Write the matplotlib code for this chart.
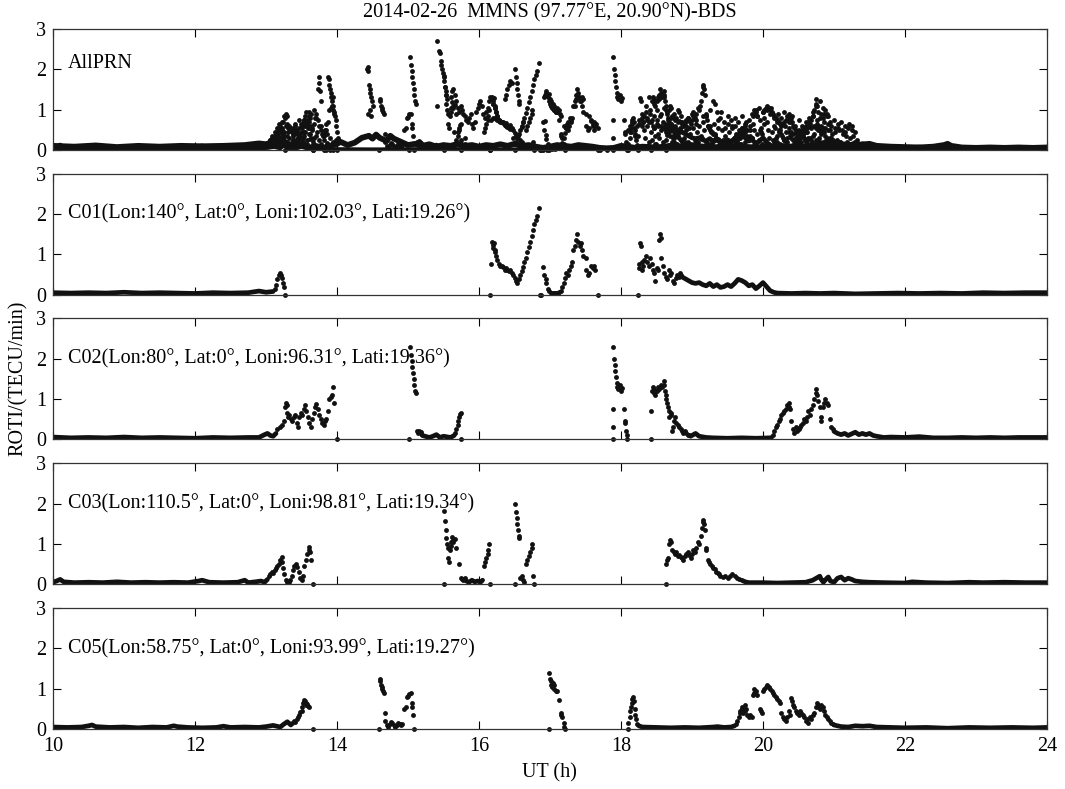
import numpy as np
import matplotlib
matplotlib.use('Agg')
import matplotlib.pyplot as plt

nan = np.nan

# ---- C01: quiet background (line) and scattered ROTI samples (dots) ----
c01_base_t = [10.0, 10.25, 10.5, 10.75, 11.0, 11.25, 11.5, 11.75, 12.0, 12.25, 12.5, 12.75, 12.9, 13.0, 13.1, nan,
              18.85, 18.9, 18.95, 19.0, 19.05, 19.1, 19.15, 19.2, 19.25, 19.3, 19.35, 19.4, 19.45, 19.5, 19.55,
              19.6, 19.65, 19.7, 19.75, 19.8, 19.85, 19.9, 19.95, 20.0, 20.05, 20.1, 20.15, 20.2, 20.4, 20.6,
              20.8, 21.0, 21.3, 21.6, 21.9, 22.2, 22.5, 22.8, 23.1, 23.4, 23.7, 24.0]
c01_base_v = [0.05, 0.04, 0.05, 0.04, 0.06, 0.04, 0.05, 0.04, 0.03, 0.05, 0.04, 0.05, 0.09, 0.06, 0.08, nan,
              0.45, 0.4, 0.35, 0.3, 0.28, 0.3, 0.25, 0.22, 0.28, 0.2, 0.25, 0.18, 0.2, 0.25, 0.2,
              0.28, 0.38, 0.35, 0.3, 0.22, 0.25, 0.15, 0.22, 0.3, 0.2, 0.1, 0.06, 0.04, 0.03, 0.04,
              0.03, 0.04, 0.02, 0.03, 0.04, 0.03, 0.04, 0.03, 0.05, 0.04, 0.05, 0.05]
c01_pts = [(13.12, 0.15), (13.14, 0.25), (13.16, 0.38), (13.18, 0.48), (13.2, 0.55), (13.21, 0.5), (13.22, 0.42),
           (13.24, 0.3), (13.26, 0.2), (13.27, 0.0),
           (16.16, 0.0), (16.17, 0.75), (16.18, 1.3), (16.19, 1.22), (16.2, 1.15), (16.21, 1.28), (16.22, 1.05),
           (16.23, 1.1), (16.24, 0.95), (16.26, 0.85), (16.28, 0.75), (16.3, 0.72), (16.32, 0.7), (16.34, 0.68),
           (16.36, 0.62), (16.38, 0.66), (16.4, 0.6), (16.42, 0.58), (16.44, 0.62), (16.46, 0.55), (16.48, 0.5),
           (16.5, 0.42), (16.52, 0.35), (16.54, 0.3), (16.56, 0.4), (16.58, 0.5), (16.6, 0.58), (16.62, 0.68),
           (16.64, 0.8), (16.66, 0.92), (16.68, 1.05), (16.7, 1.18), (16.72, 1.3), (16.74, 1.45), (16.76, 1.6),
           (16.78, 1.75), (16.8, 1.85), (16.82, 1.95), (16.84, 2.15), (16.86, 0.0), (16.88, 0.0), (16.9, 0.68),
           (16.92, 0.5), (16.94, 0.38), (16.95, 0.28), (16.97, 0.15), (16.99, 0.08), (17.01, 0.04), (17.03, 0.03),
           (17.05, 0.04), (17.07, 0.03), (17.09, 0.05), (17.11, 0.04), (17.13, 0.06), (17.15, 0.1), (17.17, 0.18),
           (17.19, 0.3), (17.21, 0.42), (17.23, 0.55), (17.25, 0.5), (17.27, 0.6), (17.29, 0.7), (17.31, 0.8),
           (17.33, 1.1), (17.35, 1.2), (17.37, 1.35), (17.38, 1.5), (17.4, 1.3), (17.42, 1.2), (17.43, 1.28),
           (17.45, 1.1), (17.47, 0.95), (17.5, 0.9), (17.51, 0.6), (17.53, 0.5), (17.55, 0.55), (17.58, 0.72),
           (17.6, 0.65), (17.62, 0.7), (17.64, 0.6), (17.67, 0.0),
           (18.24, 0.0), (18.25, 0.75), (18.26, 0.65), (18.27, 1.28), (18.28, 1.2), (18.29, 0.8), (18.3, 0.6),
           (18.31, 0.7), (18.33, 0.85), (18.35, 0.95), (18.37, 0.8), (18.39, 0.7), (18.41, 0.9), (18.43, 0.75),
           (18.45, 0.6), (18.47, 0.55), (18.48, 0.35), (18.5, 0.65), (18.52, 0.6), (18.54, 1.35), (18.55, 1.5),
           (18.56, 1.4), (18.57, 0.9), (18.59, 0.7), (18.61, 0.55), (18.63, 0.45), (18.65, 0.38), (18.67, 0.6),
           (18.69, 0.5), (18.71, 0.55), (18.73, 0.35), (18.75, 0.3), (18.77, 0.42), (18.79, 0.5), (18.81, 0.45),
           (18.83, 0.55), (18.85, 0.48)]

# ---- C02 ----
c02_base_t = [10.0, 10.25, 10.5, 10.75, 11.0, 11.25, 11.5, 11.75, 12.0, 12.25, 12.5, 12.75, 12.9, 12.98, 13.02,
              13.06, 13.1, 13.14, nan,
              15.18, 15.2, 15.3, 15.35, 15.4, 15.45, 15.5, 15.6, 15.65, nan,
              18.98, 19.0, 19.05, 19.1, 19.2, 19.3, 19.5, 19.7, 19.9, 20.1, 20.12, nan,
              21.0, 21.05, 21.1, 21.15, 21.2, 21.25, 21.3, 21.35, 21.4, 21.45, 21.5, 21.55, 21.6, 21.7, 21.8,
              22.0, 22.2, 22.4, 22.6, 22.8, 23.0, 23.2, 23.4, 23.6, 23.8, 24.0]
c02_base_v = [0.06, 0.04, 0.05, 0.04, 0.06, 0.04, 0.05, 0.04, 0.03, 0.05, 0.04, 0.05, 0.05, 0.12, 0.15,
              0.1, 0.08, 0.15, nan,
              0.18, 0.1, 0.05, 0.08, 0.12, 0.05, 0.08, 0.05, 0.1, nan,
              0.08, 0.1, 0.15, 0.08, 0.05, 0.04, 0.03, 0.04, 0.03, 0.04, 0.05, nan,
              0.2, 0.15, 0.12, 0.15, 0.1, 0.14, 0.18, 0.12, 0.15, 0.12, 0.15, 0.1, 0.08, 0.05, 0.06,
              0.05, 0.07, 0.04, 0.04, 0.05, 0.04, 0.05, 0.04, 0.05, 0.05, 0.05]
c02_pts = [(13.16, 0.25), (13.19, 0.3), (13.22, 0.35), (13.25, 0.45), (13.27, 0.8), (13.28, 0.9), (13.29, 0.85),
           (13.3, 0.65), (13.31, 0.55), (13.33, 0.6), (13.35, 0.5), (13.37, 0.45), (13.39, 0.55), (13.41, 0.6),
           (13.43, 0.4), (13.45, 0.3), (13.47, 0.55), (13.49, 0.65), (13.51, 0.6), (13.53, 0.75), (13.55, 0.85),
           (13.57, 0.7), (13.59, 0.55), (13.61, 0.4), (13.63, 0.3), (13.65, 0.5), (13.67, 0.65), (13.69, 0.8),
           (13.71, 0.88), (13.73, 0.75), (13.75, 0.6), (13.77, 0.5), (13.79, 0.4), (13.81, 0.35), (13.83, 0.45),
           (13.85, 0.5), (13.87, 0.7), (13.89, 1.0), (13.91, 1.05), (13.93, 1.1), (13.95, 1.3), (13.96, 0.9),
           (14.0, 0.0),
           (15.01, 0.0), (15.03, 2.3), (15.04, 2.1), (15.05, 1.95), (15.06, 1.8), (15.07, 1.65), (15.08, 1.5),
           (15.09, 1.35), (15.1, 1.2), (15.11, 1.15), (15.12, 0.2), (15.14, 0.15), (15.16, 0.22), (15.18, 0.18),
           (15.66, 0.15), (15.68, 0.25), (15.7, 0.35), (15.71, 0.45), (15.72, 0.55), (15.73, 0.62), (15.74, 0.65),
           (15.75, 0.0),
           (17.89, 0.0), (17.89, 0.3), (17.89, 0.75), (17.89, 2.3), (17.9, 2.0), (17.91, 1.85), (17.92, 1.7),
           (17.93, 1.55), (17.94, 1.4), (17.95, 1.3), (17.96, 1.25), (17.98, 1.35), (18.0, 1.2), (18.02, 1.28),
           (18.04, 0.75), (18.05, 0.45), (18.06, 0.4), (18.07, 0.2), (18.08, 0.1), (18.09, 0.0),
           (18.42, 0.0), (18.42, 0.7), (18.44, 1.2), (18.45, 1.3), (18.46, 1.15), (18.47, 1.25), (18.48, 1.1),
           (18.5, 1.2), (18.52, 1.3), (18.54, 1.25), (18.56, 1.35), (18.58, 1.3), (18.6, 1.45), (18.61, 1.35),
           (18.62, 1.2), (18.63, 1.1), (18.64, 1.0), (18.65, 0.9), (18.66, 0.8), (18.67, 0.7), (18.68, 0.55),
           (18.7, 0.6), (18.71, 0.65), (18.72, 0.2), (18.73, 0.3), (18.74, 0.45), (18.76, 0.55), (18.78, 0.4),
           (18.8, 0.35), (18.82, 0.3), (18.84, 0.25), (18.86, 0.2), (18.88, 0.15), (18.9, 0.2), (18.92, 0.15),
           (18.94, 0.1), (18.96, 0.12),
           (20.14, 0.1), (20.16, 0.2), (20.18, 0.3), (20.2, 0.35), (20.22, 0.45), (20.24, 0.5), (20.26, 0.6),
           (20.28, 0.65), (20.3, 0.7), (20.32, 0.75), (20.34, 0.85), (20.36, 0.9), (20.37, 0.8), (20.38, 0.75),
           (20.4, 0.45), (20.42, 0.25), (20.44, 0.15), (20.46, 0.3), (20.48, 0.2), (20.5, 0.25), (20.52, 0.3),
           (20.54, 0.35), (20.56, 0.4), (20.58, 0.5), (20.6, 0.45), (20.62, 0.55), (20.64, 0.7), (20.66, 0.6),
           (20.68, 0.75), (20.7, 0.85), (20.72, 1.0), (20.74, 1.15), (20.75, 1.25), (20.76, 1.1), (20.78, 0.95),
           (20.8, 0.8), (20.81, 0.55), (20.82, 0.45), (20.84, 0.8), (20.86, 0.9), (20.88, 1.0), (20.9, 0.9),
           (20.92, 0.85), (20.94, 0.5), (20.96, 0.3), (20.98, 0.25)]

# ---- C03 ----
c03_base_t = [10.0, 10.05, 10.1, 10.15, 10.3, 10.5, 10.7, 10.9, 11.1, 11.3, 11.5, 11.7, 11.9, 12.05, 12.1,
              12.2, 12.4, 12.6, 12.7, 12.75, 12.85, 12.93, 12.98, 13.02, nan,
              15.82, 15.86, 15.9, 15.94, 15.98, 16.02, 16.05, nan,
              19.7, 19.75, 19.8, 20.0, 20.2, 20.4, 20.6, 20.7, 20.75, 20.8, 20.82, 20.85, 20.9, 20.92, 20.95,
              21.0, 21.05, 21.1, 21.15, 21.2, 21.25, 21.3, 21.4, 21.5, 21.7, 22.0, 22.1, 22.3, 22.6, 22.9,
              23.1, 23.4, 23.7, 24.0]
c03_base_v = [0.05, 0.08, 0.12, 0.06, 0.04, 0.05, 0.04, 0.06, 0.04, 0.05, 0.04, 0.05, 0.04, 0.08, 0.1,
              0.05, 0.04, 0.05, 0.1, 0.04, 0.06, 0.08, 0.05, 0.12, nan,
              0.08, 0.05, 0.1, 0.06, 0.08, 0.05, 0.1, nan,
              0.1, 0.06, 0.04, 0.04, 0.03, 0.04, 0.05, 0.1, 0.15, 0.2, 0.12, 0.05, 0.15, 0.18, 0.08,
              0.05, 0.15, 0.18, 0.1, 0.15, 0.12, 0.08, 0.06, 0.05, 0.04, 0.03, 0.06, 0.04, 0.03, 0.05,
              0.04, 0.05, 0.04, 0.04]
c03_pts = [(13.04, 0.2), (13.06, 0.25), (13.08, 0.3), (13.1, 0.28), (13.12, 0.35), (13.14, 0.4), (13.16, 0.45),
           (13.18, 0.5), (13.2, 0.6), (13.22, 0.68), (13.23, 0.55), (13.24, 0.4), (13.26, 0.25), (13.28, 0.1),
           (13.3, 0.05), (13.32, 0.06), (13.34, 0.1), (13.36, 0.2), (13.38, 0.35), (13.4, 0.45), (13.42, 0.5),
           (13.44, 0.42), (13.46, 0.3), (13.48, 0.15), (13.5, 0.1), (13.52, 0.2), (13.54, 0.45), (13.56, 0.6),
           (13.58, 0.75), (13.6, 0.85), (13.61, 0.93), (13.62, 0.8), (13.63, 0.6), (13.66, 0.0),
           (15.5, 0.0), (15.5, 1.82), (15.52, 1.57), (15.53, 1.35), (15.54, 1.15), (15.55, 1.0), (15.56, 0.9),
           (15.57, 0.65), (15.58, 0.55), (15.59, 0.85), (15.6, 0.95), (15.61, 1.05), (15.62, 1.18), (15.63, 1.1),
           (15.64, 1.05), (15.66, 1.12), (15.68, 0.9), (15.72, 0.5), (15.74, 0.15), (15.76, 0.12), (15.78, 0.1),
           (15.8, 0.15), (16.07, 0.45), (16.09, 0.55), (16.1, 0.65), (16.12, 0.75), (16.13, 0.85), (16.14, 1.0),
           (16.16, 0.0),
           (16.5, 0.0), (16.51, 2.0), (16.52, 1.8), (16.53, 1.65), (16.54, 1.5), (16.55, 1.35), (16.56, 1.2),
           (16.57, 1.15), (16.58, 0.15), (16.6, 0.2), (16.62, 0.1), (16.64, 0.05), (16.66, 0.5), (16.68, 0.6),
           (16.7, 0.7), (16.72, 0.8), (16.74, 0.9), (16.75, 1.0), (16.76, 0.2), (16.78, 0.0),
           (18.63, 0.0), (18.64, 0.5), (18.65, 0.6), (18.66, 0.65), (18.68, 1.0), (18.69, 1.1), (18.7, 1.05),
           (18.72, 0.85), (18.74, 0.8), (18.76, 0.75), (18.78, 0.8), (18.8, 0.7), (18.82, 0.72), (18.84, 0.68),
           (18.86, 0.65), (18.88, 0.6), (18.9, 0.7), (18.92, 0.75), (18.94, 0.8), (18.96, 0.72), (18.98, 0.65),
           (19.0, 0.75), (19.02, 0.85), (19.04, 0.8), (19.06, 0.9), (19.08, 1.05), (19.1, 1.0), (19.12, 1.2),
           (19.14, 1.4), (19.15, 1.55), (19.16, 1.6), (19.17, 1.5), (19.18, 1.35), (19.19, 0.9), (19.2, 0.85),
           (19.22, 0.6), (19.24, 0.55), (19.26, 0.5), (19.28, 0.45), (19.3, 0.4), (19.32, 0.38), (19.34, 0.3),
           (19.36, 0.28), (19.38, 0.25), (19.4, 0.2), (19.43, 0.18), (19.46, 0.2), (19.5, 0.15), (19.54, 0.2),
           (19.57, 0.25), (19.6, 0.2), (19.63, 0.15), (19.66, 0.12)]

# ---- C05 ----
c05_base_t = [10.0, 10.2, 10.4, 10.5, 10.55, 10.6, 10.8, 11.0, 11.2, 11.4, 11.6, 11.7, 11.75, 11.9, 12.1, 12.3,
              12.4, 12.5, 12.7, 12.9, 13.0, 13.1, 13.2, 13.25, 13.3, 13.35, nan,
              18.25, 18.3, 18.5, 18.7, 18.9, 19.1, 19.3, 19.36, 19.45, 19.55, 19.6, nan,
              21.0, 21.1, 21.2, 21.3, 21.4, 21.5, 21.6, 21.8, 22.0, 22.3, 22.6, 22.9, 23.2, 23.5, 23.8, 24.0]
c05_base_v = [0.05, 0.04, 0.05, 0.08, 0.1, 0.06, 0.04, 0.05, 0.03, 0.05, 0.04, 0.08, 0.06, 0.04, 0.03, 0.04,
              0.07, 0.04, 0.05, 0.04, 0.06, 0.09, 0.05, 0.12, 0.18, 0.1, nan,
              0.08, 0.05, 0.04, 0.03, 0.04, 0.03, 0.05, 0.06, 0.04, 0.05, 0.08, nan,
              0.1, 0.06, 0.05, 0.08, 0.07, 0.08, 0.05, 0.04, 0.03, 0.04, 0.02, 0.04, 0.03, 0.04, 0.03, 0.04]
c05_pts = [(13.37, 0.15), (13.39, 0.2), (13.41, 0.18), (13.43, 0.25), (13.45, 0.3), (13.47, 0.35), (13.48, 0.42),
           (13.5, 0.45), (13.51, 0.55), (13.52, 0.65), (13.53, 0.73), (13.54, 0.68), (13.55, 0.7), (13.56, 0.65),
           (13.57, 0.6), (13.58, 0.62), (13.59, 0.58), (13.6, 0.55), (13.66, 0.0),
           (14.59, 0.0), (14.6, 1.25), (14.61, 1.2), (14.62, 1.1), (14.63, 1.05), (14.64, 1.0), (14.65, 0.95),
           (14.66, 0.9), (14.67, 0.4), (14.68, 0.2), (14.7, 0.1), (14.72, 0.05), (14.74, 0.12), (14.76, 0.18),
           (14.78, 0.15), (14.8, 0.1), (14.82, 0.05), (14.84, 0.1), (14.86, 0.15), (14.88, 0.12), (14.9, 0.1),
           (14.92, 0.12), (14.94, 0.5), (14.97, 0.55), (14.99, 0.8), (15.0, 0.82), (15.02, 0.88), (15.04, 0.9),
           (15.05, 0.65), (15.06, 0.55), (15.07, 0.35), (15.09, 0.0),
           (16.98, 0.0), (16.98, 1.38), (17.0, 1.25), (17.01, 1.2), (17.02, 1.1), (17.03, 1.05), (17.04, 1.15),
           (17.05, 1.1), (17.06, 1.0), (17.08, 0.95), (17.1, 0.95), (17.12, 0.73), (17.15, 0.4), (17.16, 0.35),
           (17.17, 0.3), (17.19, 0.15), (17.2, 0.05), (17.21, 0.0),
           (18.1, 0.0), (18.1, 0.15), (18.12, 0.3), (18.13, 0.45), (18.14, 0.55), (18.15, 0.65), (18.16, 0.75),
           (18.17, 0.8), (18.18, 0.7), (18.19, 0.5), (18.2, 0.35), (18.21, 0.25), (18.23, 0.12),
           (19.62, 0.12), (19.64, 0.2), (19.66, 0.3), (19.67, 0.4), (19.68, 0.45), (19.7, 0.5), (19.71, 0.55),
           (19.72, 0.4), (19.74, 0.45), (19.75, 0.6), (19.76, 0.5), (19.78, 0.35), (19.8, 0.3), (19.82, 0.35),
           (19.84, 0.3), (19.86, 0.85), (19.87, 0.9), (19.88, 1.0), (19.9, 0.95), (19.92, 0.85), (19.96, 0.5),
           (19.97, 0.45), (19.98, 0.4), (20.0, 0.95), (20.02, 1.0), (20.04, 1.05), (20.06, 1.1), (20.08, 1.05),
           (20.1, 1.0), (20.12, 0.95), (20.14, 0.9), (20.16, 0.85), (20.18, 0.8), (20.2, 0.75), (20.22, 0.7),
           (20.24, 0.65), (20.26, 0.4), (20.28, 0.3), (20.3, 0.25), (20.32, 0.2), (20.34, 0.3), (20.36, 0.45),
           (20.38, 0.35), (20.4, 0.78), (20.41, 0.7), (20.42, 0.6), (20.44, 0.55), (20.46, 0.45), (20.48, 0.4),
           (20.5, 0.35), (20.52, 0.45), (20.54, 0.4), (20.56, 0.35), (20.58, 0.3), (20.6, 0.2), (20.62, 0.25),
           (20.64, 0.15), (20.66, 0.3), (20.68, 0.25), (20.7, 0.35), (20.72, 0.4), (20.74, 0.55), (20.76, 0.65),
           (20.77, 0.6), (20.78, 0.55), (20.8, 0.5), (20.82, 0.6), (20.84, 0.55), (20.86, 0.45), (20.88, 0.35),
           (20.9, 0.3), (20.92, 0.25), (20.94, 0.2), (20.96, 0.15), (20.98, 0.12)]

# ---- other PRNs, only visible in the AllPRN panel ----
oth_base_t = [10.0, 10.3, 10.6, 10.9, 11.2, 11.5, 11.8, 12.1, 12.4, 12.7, 12.9, 13.0, 13.1, 13.2, 13.3, 13.4,
              13.5, 13.6, 13.7, 13.8, 13.9, 14.0, 14.05, 14.15, 14.25, 14.35, 14.45, 14.5, 14.55, 14.6, 14.7,
              14.75, 14.8, 14.9, 15.0, 15.1, 15.2, 15.3, 15.4, 15.5, 15.6, 15.7, 15.8, 15.9, 16.0, 16.1, 16.2,
              16.3, 16.4, 16.5, 16.6, 16.7, 16.8, 16.9, 17.0, 17.1, 17.2, 17.3, 17.4, 17.5, 17.6, 17.7, 17.8,
              17.9, 18.0, 18.1, 18.2, 18.3, 18.5, 18.7, 18.9, 19.1, 19.3, 19.5, 19.7, 19.9, 20.1, 20.3, 20.5,
              20.7, 20.9, 21.1, 21.3, 21.5, 21.6, 21.8, 22.0, 22.2, 22.4, 22.55, 22.6, 22.65, 22.8, 23.0,
              23.2, 23.4, 23.6, 23.8, 24.0]
oth_base_v = [0.1, 0.08, 0.11, 0.07, 0.1, 0.08, 0.1, 0.09, 0.1, 0.12, 0.16, 0.14, 0.2, 0.15, 0.1, 0.05,
              0.1, 0.05, 0.1, 0.05, 0.1, 0.15, 0.2, 0.12, 0.18, 0.3, 0.35, 0.28, 0.38, 0.3, 0.22,
              0.35, 0.28, 0.2, 0.12, 0.15, 0.1, 0.14, 0.08, 0.12, 0.1, 0.15, 0.1, 0.12, 0.08, 0.12, 0.1,
              0.14, 0.1, 0.15, 0.1, 0.12, 0.08, 0.05, 0.08, 0.12, 0.1, 0.08, 0.12, 0.1, 0.08, 0.05, 0.04,
              0.05, 0.1, 0.08, 0.05, 0.08, 0.06, 0.1, 0.07, 0.09, 0.06, 0.1, 0.08, 0.06, 0.09, 0.07, 0.1,
              0.06, 0.08, 0.1, 0.12, 0.15, 0.1, 0.08, 0.07, 0.06, 0.08, 0.12, 0.15, 0.1, 0.06, 0.05,
              0.06, 0.05, 0.06, 0.05, 0.06]
oth_zero_t = [13.7, 14.5, 15.5, 16.5, 17.5, 18.5, 19.5, 20.5, 21.5]
oth_zero_v = [0.02, 0.01, 0.02, 0.01, 0.02, 0.01, 0.02, 0.01, 0.03]
oth_pts = [(13.05, 0.25), (13.08, 0.35), (13.1, 0.2), (13.12, 0.45), (13.14, 0.3), (13.15, 0.55), (13.17, 0.4),
           (13.18, 0.65), (13.2, 0.25), (13.22, 0.5), (13.24, 0.7), (13.25, 0.35), (13.26, 0.85), (13.28, 0.6),
           (13.3, 0.2), (13.31, 0.45), (13.33, 0.3), (13.35, 0.55), (13.36, 0.15), (13.38, 0.4), (13.4, 0.25),
           (13.41, 0.65), (13.43, 0.5), (13.45, 0.2), (13.46, 0.75), (13.48, 0.35), (13.5, 0.6), (13.52, 0.3),
           (13.53, 0.15), (13.55, 0.45), (13.57, 0.95), (13.58, 0.25), (13.6, 0.7), (13.62, 0.4), (13.63, 0.9),
           (13.65, 0.55), (13.67, 1.0), (13.68, 0.3), (13.7, 0.8), (13.72, 0.45), (13.73, 1.5), (13.74, 1.65),
           (13.75, 1.8), (13.76, 1.45), (13.77, 1.2), (13.78, 0.6), (13.8, 0.35), (13.81, 0.0), (13.85, 0.0),
           (13.83, 0.5), (13.85, 0.65), (13.86, 0.4), (13.87, 1.8), (13.88, 1.75), (13.89, 1.6), (13.9, 1.5),
           (13.91, 1.4), (13.92, 1.3), (13.93, 1.2), (13.94, 1.1), (13.95, 1.0), (13.96, 0.95), (13.97, 0.85),
           (13.98, 0.75), (13.99, 0.6), (14.0, 0.45), (14.01, 0.3), (14.02, 0.2), (13.9, 0.0), (13.95, 0.0),
           (14.42, 2.0), (14.43, 2.05), (14.44, 1.95), (14.45, 1.6), (14.46, 1.5), (14.47, 1.4), (14.48, 1.3),
           (14.49, 1.2), (14.5, 1.1), (14.44, 0.9), (14.46, 1.0), (14.48, 0.85),
           (15.41, 2.7), (15.41, 1.1), (15.43, 2.45), (15.45, 2.4), (15.46, 2.2), (15.47, 2.1), (15.48, 2.0),
           (15.49, 1.9), (15.5, 1.8), (15.51, 1.7), (15.52, 1.55), (15.53, 1.45), (15.54, 1.35), (15.55, 1.25),
           (15.6, 1.3), (15.62, 1.45), (15.64, 1.5), (15.66, 1.35), (15.68, 1.2), (15.7, 1.05), (15.72, 0.95),
           (15.74, 1.1), (15.76, 1.0), (15.78, 0.9), (15.8, 0.85), (15.82, 0.75), (15.84, 0.7), (15.86, 0.8),
           (15.88, 0.9), (15.9, 0.65), (15.92, 0.55), (15.94, 0.7), (15.96, 0.95), (15.98, 1.05), (16.0, 1.15),
           (16.02, 1.2), (16.04, 1.1), (16.06, 0.9), (16.08, 0.8), (16.1, 0.95), (16.12, 1.05), (16.14, 1.2),
           (16.16, 1.3), (16.18, 1.25), (16.2, 1.15), (16.22, 1.05), (16.24, 0.95), (16.26, 0.85), (16.28, 0.75),
           (16.3, 0.7), (15.65, 0.45), (15.75, 0.25), (15.8, 0.3),
           (16.2, 0.8), (16.22, 0.78), (16.24, 0.76), (16.26, 0.74), (16.28, 0.72), (16.32, 0.68), (16.34, 0.66),
           (16.36, 0.62), (16.38, 0.6), (16.4, 0.58), (16.42, 0.55), (16.44, 0.52),
           (16.36, 1.25), (16.38, 1.35), (16.4, 1.5), (16.42, 1.6), (16.44, 1.7), (16.46, 1.65),
           (16.48, 0.3), (16.52, 0.2), (16.55, 0.35), (16.58, 0.25), (16.6, 0.6), (16.62, 0.7),
           (16.9, 0.0), (16.92, 1.3), (16.93, 1.35), (16.93, 0.72), (16.94, 1.4), (16.95, 1.45), (16.96, 1.35),
           (16.96, 0.0), (16.97, 1.3), (16.98, 1.2), (17.0, 1.15), (17.02, 1.1), (17.04, 1.05), (17.06, 1.0),
           (17.08, 0.95), (17.1, 1.05), (17.12, 1.0), (17.14, 0.9), (17.16, 0.85), (17.2, 0.6), (17.22, 0.55),
           (17.24, 0.65), (17.26, 0.7), (17.28, 0.8), (17.3, 0.75), (17.35, 1.1), (17.37, 1.25), (17.39, 1.4),
           (17.41, 1.3), (17.43, 1.2), (17.45, 1.3), (17.47, 1.25), (17.55, 0.85), (17.58, 0.75), (17.6, 0.6),
           (17.62, 0.5), (17.65, 0.65), (17.68, 0.55), (17.7, 0.0), (17.8, 0.0),
           (18.1, 0.5), (18.12, 0.6), (18.14, 0.45), (18.16, 0.7), (18.18, 0.55), (18.2, 0.4), (18.22, 0.6),
           (18.24, 0.35)]
# low cluster of several tracks before 14 UT
oth_g_t = [13.02, 13.06, 13.1, 13.14, 13.18, 13.22, 13.26, 13.3, 13.34, 13.38, 13.42, 13.46, 13.5, 13.54,
           13.58, 13.62, 13.66, 13.7, 13.74, 13.78, 13.82, 13.86, 13.9, 13.94, 13.98]
oth_g_v = [0.12, 0.18, 0.1, 0.22, 0.15, 0.3, 0.2, 0.35, 0.12, 0.25, 0.18, 0.3, 0.22, 0.35,
           0.15, 0.28, 0.2, 0.35, 0.25, 0.15, 0.25, 0.18, 0.3, 0.2, 0.25]
# overlapping satellite tracks in the 18-21.3 UT disturbance
oth_a_t = [18.30, 18.35, 18.40, 18.45, 18.50, 18.55, 18.60, 18.65, 18.70, 18.75, 18.80, 18.85, 18.90, 18.95,
           19.00, 19.05, 19.10, 19.15, 19.20, 19.25, 19.30, 19.33, 19.35, 19.40, 19.45, 19.50, 19.55, 19.60,
           19.65, 19.70, 19.75, 19.80, 19.85, 19.90, 19.95, 20.00, 20.05, 20.10, 20.15, 20.20, 20.25, 20.30,
           20.35, 20.40, 20.45, 20.50, 20.55, 20.60, 20.65, 20.70, 20.75, 20.80, 20.85, 20.90, 20.95, 21.00,
           21.05, 21.10, 21.15, 21.20, 21.25, 21.30]
oth_a_v = [0.9, 1.1, 1.3, 1.2, 1.0, 0.85, 1.05, 0.95, 0.8, 0.9, 1.0, 0.85, 0.7, 0.8,
           0.9, 0.75, 0.6, 0.7, 0.85, 1.0, 1.2, 1.15, 0.95, 0.8, 0.7, 0.85, 0.75, 0.6,
           0.7, 0.55, 0.65, 0.75, 0.9, 1.0, 1.05, 0.95, 1.0, 0.9, 0.8, 0.7, 0.8, 0.95,
           0.85, 0.7, 0.6, 0.5, 0.6, 0.7, 0.8, 0.95, 1.1, 1.2, 1.05, 0.85, 0.7, 0.75,
           0.65, 0.7, 0.6, 0.55, 0.6, 0.45]
oth_b_t = [18.32, 18.37, 18.42, 18.47, 18.52, 18.57, 18.62, 18.67, 18.72, 18.77, 18.82, 18.87, 18.92, 18.97,
           19.02, 19.07, 19.12, 19.17, 19.22, 19.27, 19.32, 19.37, 19.42, 19.47, 19.52, 19.57, 19.62, 19.67,
           19.72, 19.77, 19.82, 19.87, 19.92, 19.97, 20.02, 20.07, 20.12, 20.17, 20.22, 20.27, 20.32, 20.37,
           20.42, 20.47, 20.52, 20.57, 20.62, 20.67, 20.72, 20.77, 20.82, 20.87, 20.92, 20.97, 21.02, 21.07,
           21.12, 21.17, 21.22, 21.27, 21.32]
oth_b_v = [0.5, 0.6, 0.45, 0.55, 0.4, 0.5, 0.65, 0.45, 0.5, 0.35, 0.45, 0.6, 0.5, 0.4,
           0.55, 0.45, 0.35, 0.5, 0.6, 0.45, 0.4, 0.55, 0.5, 0.35, 0.45, 0.55, 0.4, 0.3,
           0.45, 0.5, 0.6, 0.5, 0.4, 0.55, 0.65, 0.5, 0.45, 0.55, 0.5, 0.35, 0.45, 0.55,
           0.4, 0.3, 0.4, 0.5, 0.45, 0.55, 0.6, 0.5, 0.4, 0.55, 0.5, 0.4, 0.45, 0.5,
           0.4, 0.35, 0.3, 0.35, 0.25]
oth_c_t = [18.34, 18.39, 18.44, 18.49, 18.54, 18.59, 18.64, 18.69, 18.74, 18.79, 18.84, 18.89, 18.94, 18.99,
           19.04, 19.09, 19.14, 19.19, 19.24, 19.29, 19.34, 19.39, 19.44, 19.49, 19.54, 19.59, 19.64, 19.69,
           19.74, 19.79, 19.84, 19.89, 19.94, 19.99, 20.04, 20.09, 20.14, 20.19, 20.24, 20.29, 20.34, 20.39,
           20.44, 20.49, 20.54, 20.59, 20.64, 20.69, 20.74, 20.79, 20.84, 20.89, 20.94, 20.99, 21.04, 21.09,
           21.14, 21.19, 21.24, 21.29, 21.34]
oth_c_v = [0.3, 0.2, 0.25, 0.15, 0.3, 0.2, 0.25, 0.35, 0.2, 0.15, 0.25, 0.3, 0.2, 0.15,
           0.25, 0.2, 0.3, 0.2, 0.15, 0.25, 0.3, 0.2, 0.25, 0.15, 0.2, 0.3, 0.25, 0.15,
           0.2, 0.25, 0.3, 0.2, 0.25, 0.15, 0.2, 0.3, 0.25, 0.2, 0.15, 0.25, 0.2, 0.3,
           0.25, 0.15, 0.2, 0.25, 0.3, 0.2, 0.25, 0.3, 0.2, 0.25, 0.3, 0.2, 0.25, 0.2,
           0.15, 0.2, 0.15, 0.2, 0.12]
oth_d_t = [18.31, 18.41, 18.51, 18.61, 18.71, 18.81, 18.91, 19.01, 19.11, 19.21, 19.31, 19.41, 19.51, 19.61,
           19.71, 19.81, 19.91, 20.01, 20.11, 20.21, 20.31, 20.41, 20.51, 20.61, 20.71, 20.81, 20.91, 21.01,
           21.11, 21.21]
oth_d_v = [0.7, 1.0, 0.75, 1.3, 0.65, 0.95, 0.6, 0.95, 1.1, 0.75, 0.65, 0.95, 0.65, 0.8,
           0.85, 0.5, 0.85, 0.8, 1.05, 0.9, 0.6, 0.85, 0.75, 0.6, 0.85, 0.9, 0.65, 0.55,
           0.5, 0.65]
oth_e_t = [18.36, 18.46, 18.56, 18.66, 18.76, 18.86, 18.96, 19.06, 19.16, 19.26, 19.36, 19.46, 19.56, 19.66,
           19.76, 19.86, 19.96, 20.06, 20.16, 20.26, 20.36, 20.46, 20.56, 20.66, 20.76, 20.86, 20.96, 21.06,
           21.16, 21.26]
oth_e_v = [0.75, 0.85, 0.6, 0.75, 0.6, 0.7, 0.55, 0.65, 0.85, 0.6, 0.75, 0.55, 0.6, 0.5,
           0.7, 0.65, 0.75, 0.7, 0.6, 0.65, 0.7, 0.5, 0.55, 0.65, 0.75, 0.7, 0.6, 0.55,
           0.45, 0.5]
oth_f_t = [18.38, 18.48, 18.58, 18.68, 18.78, 18.88, 18.98, 19.08, 19.18, 19.28, 19.38, 19.48, 19.58, 19.68,
           19.78, 19.88, 19.98, 20.08, 20.18, 20.28, 20.38, 20.48, 20.58, 20.68, 20.78, 20.88, 20.98, 21.08,
           21.18, 21.28]
oth_f_v = [0.1, 0.15, 0.08, 0.12, 0.1, 0.14, 0.08, 0.12, 0.1, 0.15, 0.08, 0.12, 0.1, 0.14,
           0.08, 0.12, 0.1, 0.15, 0.08, 0.12, 0.1, 0.14, 0.08, 0.12, 0.1, 0.15, 0.08, 0.12,
           0.1, 0.14]

panel_labels = ['AllPRN',
                'C01(Lon:140°, Lat:0°, Loni:102.03°, Lati:19.26°)',
                'C02(Lon:80°, Lat:0°, Loni:96.31°, Lati:19.36°)',
                'C03(Lon:110.5°, Lat:0°, Loni:98.81°, Lati:19.34°)',
                'C05(Lon:58.75°, Lat:0°, Loni:93.99°, Lati:19.27°)']
title = '2014-02-26  MMNS (97.77°E, 20.90°N)-BDS'

plt.rcParams['font.family'] = ['Liberation Serif', 'DejaVu Serif']
plt.rcParams['font.size'] = 14.5

INK = '#111111'
MS = 3.5


def draw_sat(ax, base_t, base_v, pts):
    ax.plot(base_t, base_v, color=INK, lw=3.4, solid_capstyle='round', solid_joinstyle='round')
    t, v = zip(*pts)
    ax.plot(t, v, 'o', color=INK, ms=MS, mew=0, clip_on=False)


fig = plt.figure(figsize=(10.65, 7.89), dpi=100)
left, width = 0.0498, 0.9333
h, step, bottom0 = 0.1534, 0.1835, 0.0760

sats = [(c01_base_t, c01_base_v, c01_pts), (c02_base_t, c02_base_v, c02_pts),
        (c03_base_t, c03_base_v, c03_pts), (c05_base_t, c05_base_v, c05_pts)]
others = [(oth_g_t, oth_g_v), (oth_a_t, oth_a_v), (oth_b_t, oth_b_v), (oth_c_t, oth_c_v),
          (oth_d_t, oth_d_v), (oth_e_t, oth_e_v), (oth_f_t, oth_f_v)]

for i in range(5):
    ax = fig.add_axes([left, bottom0 + (4 - i) * step, width, h])
    if i == 0:
        ax.plot(oth_base_t, oth_base_v, color=INK, lw=4.2, solid_capstyle='round')
        ax.plot(oth_zero_t, oth_zero_v, color=INK, lw=3.0)
        for s in sats:
            draw_sat(ax, *s)
        t, v = zip(*oth_pts)
        ax.plot(t, v, 'o', color=INK, ms=MS, mew=0, clip_on=False)
        for tt, vv in others:
            ax.plot(tt, vv, 'o', color=INK, ms=MS, mew=0, clip_on=False)
    else:
        draw_sat(ax, *sats[i - 1])

    ax.set_xlim(10, 24)
    ax.set_ylim(0, 3)
    ax.set_xticks(range(10, 25, 2))
    ax.set_yticks([0, 1, 2, 3])
    ax.tick_params(direction='in', top=True, right=True, length=6, width=0.8, labelsize=14.5)
    ax.tick_params(axis='x', pad=6)
    ax.tick_params(axis='y', pad=5)
    if i < 4:
        ax.tick_params(labelbottom=False)
    for sp in ax.spines.values():
        sp.set_linewidth(0.9)
        sp.set_color('#333333')
    ax.text(0.015, 2.15 if i == 0 else 2.0, panel_labels[i], transform=ax.get_yaxis_transform(),
            ha='left', va='center', fontsize=14.5)

fig.text(0.516, 0.984, title, ha='center', va='center', fontsize=14.5)
fig.text(0.516, 0.02, 'UT (h)', ha='center', va='center', fontsize=14.5)
fig.text(0.017, 0.52, 'ROTI/(TECU/min)', rotation=90, ha='center', va='center', fontsize=14.5)

fig.savefig('out.png', dpi=100)
